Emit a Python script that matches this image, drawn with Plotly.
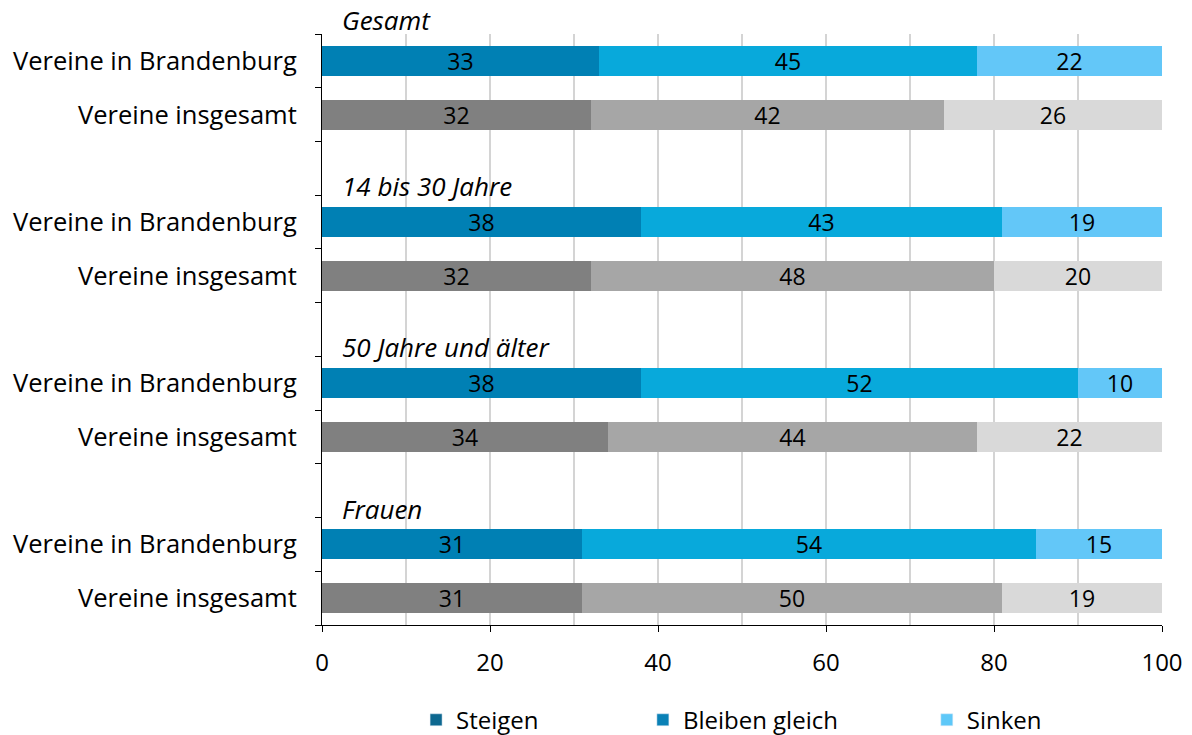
import plotly.graph_objects as go

groups = ["Gesamt", "14 bis 30 Jahre", "50 Jahre und älter", "Frauen"]
row_labels = ["Vereine in Brandenburg", "Vereine insgesamt"]
segments = ["Steigen", "Bleiben gleich", "Sinken"]

steigen_br = [33, 38, 38, 31]
bleiben_br = [45, 43, 52, 54]
sinken_br = [22, 19, 10, 15]
steigen_all = [32, 32, 34, 31]
bleiben_all = [42, 48, 44, 50]
sinken_all = [26, 20, 22, 19]

br_colors = ["#0080b4", "#08a9db", "#63c7f8"]
all_colors = ["#808080", "#a6a6a6", "#d9d9d9"]
legend_colors = ["#0d6890", "#0a81b6", "#5ec8f8"]
legend_x = [0.112, 0.382, 0.72]

FONT = "Open Sans"

ys, labels, vals = [], [], {0: [], 1: [], 2: []}
colors = {0: [], 1: [], 2: []}
br = [steigen_br, bleiben_br, sinken_br]
al = [steigen_all, bleiben_all, sinken_all]
for g in range(len(groups)):
    for r in range(2):
        ys.append(g * 3 + r)
        labels.append(row_labels[r])
        for s in range(3):
            src = br if r == 0 else al
            vals[s].append(src[s][g])
            colors[s].append((br_colors if r == 0 else all_colors)[s])

fig = go.Figure()
for s in range(3):
    fig.add_trace(go.Bar(
        x=vals[s], y=ys, orientation="h",
        marker=dict(color=colors[s], line=dict(width=0)),
        text=[str(v) for v in vals[s]], textposition="inside", textangle=0,
        insidetextanchor="middle", constraintext="none", cliponaxis=False,
        textfont=dict(family=FONT, size=23, color="#000000"),
        width=0.56, showlegend=False, hoverinfo="skip",
    ))
legend_keys = ["legend", "legend2", "legend3"]
for s in range(3):
    fig.add_trace(go.Bar(x=[None], y=[None], orientation="h", name=segments[s],
                         marker=dict(color=legend_colors[s]), showlegend=True,
                         legend=legend_keys[s]))

for g, name in enumerate(groups):
    fig.add_annotation(x=0, y=g * 3 - 0.5, xref="x", yref="y", text=name,
                       showarrow=False, xanchor="left", yanchor="middle",
                       xshift=18, yshift=14 if g == 0 else 9,
                       font=dict(family=FONT, size=26, color="#000000", style="italic"))

legend_common = dict(orientation="h", y=-0.123, yanchor="top", xanchor="left",
                     font=dict(family=FONT, size=24, color="#000000"), itemwidth=30,
                     bgcolor="rgba(0,0,0,0)")
layout_legends = {}
for s in range(3):
    layout_legends[legend_keys[s]] = dict(legend_common, x=legend_x[s])

fig.update_layout(
    width=1184, height=727,
    barmode="stack", bargap=0,
    plot_bgcolor="white", paper_bgcolor="white",
    margin=dict(l=314, r=30, t=26, b=110, autoexpand=False),
    xaxis=dict(range=[0, 100], dtick=20, tick0=0, showgrid=True, gridcolor="#d4d4d4", gridwidth=1.5,
               minor=dict(dtick=10, tick0=0, showgrid=True, gridcolor="#d4d4d4", gridwidth=1.5),
               ticks="outside", ticklen=6, tickcolor="#000000", automargin=False,
               showline=True, linecolor="#000000", linewidth=1.2, zeroline=False,
               ticklabelstandoff=10,
               tickfont=dict(family=FONT, size=24, color="#000000"), fixedrange=True),
    yaxis=dict(range=[10.5, -0.5], tickmode="array", tickvals=ys, ticktext=labels,
               ticks="", showgrid=False, zeroline=False, automargin=False,
               showline=True, linecolor="#000000", linewidth=1.2,
               minor=dict(tickmode="linear", tick0=-0.5, dtick=1, ticks="outside", ticklen=6,
                          tickcolor="#000000", showgrid=False),
               tickfont=dict(family=FONT, size=25.5, color="#000000"), ticklabelstandoff=19),
    **layout_legends,
)

fig.write_html("out.html")
